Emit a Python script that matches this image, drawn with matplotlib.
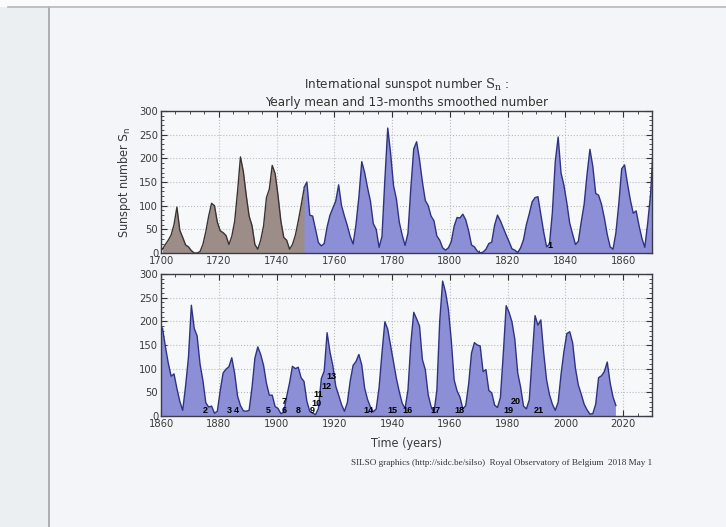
import numpy as np
import matplotlib
matplotlib.use("Agg")
import matplotlib.pyplot as plt
from matplotlib.lines import Line2D
from matplotlib.patches import Rectangle
from matplotlib.ticker import MultipleLocator

# Yearly mean sunspot number, 1700-1749
yearly_years = np.arange(1700, 1750)
yearly_values = [
    8, 18, 27, 38, 60, 97, 48, 33, 17, 13,
    5, 0, 0, 3, 18, 45, 78, 105, 100, 65,
    47, 43, 37, 18, 35, 67, 130, 203, 172, 122,
    78, 58, 18, 8, 27, 57, 117, 135, 185, 168,
    122, 67, 33, 27, 8, 18, 37, 67, 100, 135,
]

# 13-month smoothed sunspot number, one value per year, 1749-2017
smoothed_years = np.arange(1749, 2018)
smoothed_values = [
    138,                                               # 1749
    150, 80, 78, 50, 22, 15, 20, 55, 80, 95,           # 1750s
    110, 144, 100, 78, 58, 35, 19, 60, 118, 193,       # 1760s
    170, 138, 110, 62, 50, 12, 35, 155, 264, 210,      # 1770s
    142, 114, 65, 38, 16, 42, 138, 220, 235, 197,      # 1780s
    150, 111, 100, 78, 68, 36, 27, 11, 6, 11,          # 1790s
    24, 57, 75, 74, 82, 70, 47, 17, 13, 4,             # 1800s
    0, 2, 8, 20, 23, 59, 80, 68, 53, 38,               # 1810s
    24, 9, 6, 1, 11, 28, 60, 83, 108, 117,             # 1820s
    119, 81, 44, 13, 19, 86, 193, 245, 169, 143,       # 1830s
    106, 63, 40, 18, 25, 66, 103, 166, 219, 183,       # 1840s
    126, 122, 103, 74, 39, 13, 8, 43, 104, 178,        # 1850s
    186, 147, 112, 84, 89, 58, 31, 12, 63, 124,        # 1860s
    234, 185, 169, 110, 75, 28, 19, 21, 6, 10,         # 1870s
    54, 91, 99, 104, 123, 90, 42, 22, 11, 10,          # 1880s
    12, 60, 122, 146, 130, 107, 69, 44, 44, 20,        # 1890s
    16, 5, 8, 41, 70, 105, 100, 103, 81, 73,           # 1900s
    31, 10, 6, 3, 16, 79, 95, 176, 135, 106,           # 1910s
    63, 44, 24, 10, 28, 74, 107, 115, 130, 108,        # 1920s
    59, 35, 19, 9, 15, 60, 133, 199, 183, 148,         # 1930s
    113, 79, 51, 27, 16, 55, 154, 219, 205, 190,       # 1940s
    119, 98, 45, 20, 7, 54, 201, 285, 262, 225,        # 1950s
    159, 76, 53, 40, 15, 22, 67, 133, 155, 150,        # 1960s
    148, 94, 98, 54, 49, 23, 18, 39, 131, 233,         # 1970s
    219, 199, 162, 91, 61, 21, 15, 34, 123, 212,       # 1980s
    192, 203, 133, 76, 45, 25, 12, 29, 88, 136,        # 1990s
    174, 178, 155, 100, 65, 46, 25, 13, 4, 5,          # 2000s
    25, 81, 85, 94, 114, 70, 40, 22,                   # 2010s
]

# Solar cycle numbers written near each cycle minimum
top_cycle_labels = ["1"]
top_cycle_x = [1834.8]
top_cycle_y = [16]

bottom_cycle_labels = ["2", "3", "4", "5", "6", "7", "8", "9", "10", "11",
                       "12", "13", "14", "15", "16", "17", "18", "19", "20", "21"]
bottom_cycle_x = [1875.3, 1883.6, 1886.1, 1897.1, 1902.5, 1902.5, 1907.6, 1912.2, 1913.9, 1914.3,
                  1917.3, 1918.9, 1931.9, 1940.0, 1945.2, 1955.2, 1963.5, 1980.2, 1982.8, 1990.9]
bottom_cycle_y = [12, 12, 12, 12, 12, 30, 12, 12, 27, 46,
                  63, 83, 12, 12, 12, 12, 12, 12, 30, 12]

BG = "#f3f5f8"
AX_BG = "#f7f8fa"
BLUE_FILL = "#8c8fd6"
BLUE_LINE = "#2f3283"
BROWN_FILL = "#9c8d88"
BROWN_LINE = "#3b3232"
SANS = dict(family="DejaVu Sans", fontstretch="condensed")

fig = plt.figure(figsize=(7.26, 5.27), dpi=100, facecolor=BG)

# page edges of the printed sheet
fig.add_artist(Rectangle((0, 0), 0.0675, 0.9867, transform=fig.transFigure,
                         facecolor="#eceff2", edgecolor="none", zorder=0))
fig.add_artist(Rectangle((0, 0.9867), 1, 0.0133, transform=fig.transFigure,
                         facecolor="#fbfbfc", edgecolor="none", zorder=0))
fig.add_artist(Line2D([0.0675, 0.0675], [0, 0.9867], transform=fig.transFigure,
                      color="#9fa3a8", lw=1.2, zorder=1))
fig.add_artist(Line2D([0.011, 1.0], [0.9867, 0.9867], transform=fig.transFigure,
                      color="#b4b7bb", lw=1.2, zorder=1))

ax_top = fig.add_axes([0.2218, 0.5199, 0.6763, 0.2695])
ax_bot = fig.add_axes([0.2218, 0.2106, 0.6763, 0.2695])

yx = np.asarray(yearly_years) + 0.5
yv = np.asarray(yearly_values, dtype=float)
sx = np.asarray(smoothed_years) + 0.5
sv = np.asarray(smoothed_values, dtype=float)

for ax, (x0, x1) in ((ax_top, (1700, 1870)), (ax_bot, (1860, 2030))):
    ax.set_facecolor(AX_BG)
    ax.fill_between(sx, 0, sv, color=BLUE_FILL, lw=0, zorder=2)
    ax.plot(sx, sv, color=BLUE_LINE, lw=1.0, zorder=3)
    ax.set_xlim(x0, x1)
    ax.set_ylim(0, 300)
    ax.xaxis.set_major_locator(MultipleLocator(20))
    ax.xaxis.set_minor_locator(MultipleLocator(5))
    ax.yaxis.set_major_locator(MultipleLocator(50))
    ax.yaxis.set_minor_locator(MultipleLocator(10))
    ax.tick_params(which="both", direction="in", top=True, right=True,
                   colors="#333333", labelcolor="#3a3a3a", labelsize=8, pad=2)
    ax.tick_params(which="major", length=4, width=0.8)
    ax.tick_params(which="minor", length=2, width=0.6)
    for lab in ax.get_xticklabels() + ax.get_yticklabels():
        lab.set_fontstretch("condensed")
    ax.grid(which="major", color="#b9bcc2", ls=":", lw=0.8)
    ax.set_axisbelow(True)
    for sp in ax.spines.values():
        sp.set_color("#3c3c46")
        sp.set_linewidth(1.0)

ax_top.fill_between(yx, 0, yv, color=BROWN_FILL, lw=0, zorder=2)
ax_top.plot(yx, yv, color=BROWN_LINE, lw=1.0, zorder=3)

for lab, x, y in zip(top_cycle_labels, top_cycle_x, top_cycle_y):
    ax_top.text(x, y, lab, ha="center", va="center", fontsize=6.5,
                fontweight="bold", color="black", family="Liberation Sans", zorder=4)
for lab, x, y in zip(bottom_cycle_labels, bottom_cycle_x, bottom_cycle_y):
    ax_bot.text(x, y, lab, ha="center", va="center", fontsize=6.5,
                fontweight="bold", color="black", family="Liberation Sans", zorder=4)

ax_top.set_ylabel(r"Sunspot number $\mathrm{S_n}$", fontsize=9, color="#3a3a3a", **SANS)
ax_top.yaxis.set_label_coords(-0.057, 0.5)
ax_bot.set_xlabel("Time (years)", fontsize=9, color="#3a3a3a", **SANS)
ax_bot.xaxis.set_label_coords(0.5, -0.15)

fig.text(0.5596, 0.8406, r"International sunspot number $\mathrm{S_n}$ :", ha="center", va="center",
         fontsize=9.5, color="#333333", math_fontfamily="dejavuserif", **SANS)
fig.text(0.5596, 0.8046, "Yearly mean and 13-months smoothed number", ha="center", va="center",
         fontsize=9.5, color="#333333", **SANS)

fig.text(0.898, 0.1215, "SILSO graphics (http://sidc.be/silso)  Royal Observatory of Belgium  2018 May 1",
         ha="right", va="center", fontsize=6.6, color="#333333", family="Liberation Serif")

fig.savefig("out.png", dpi=100, facecolor=BG)
